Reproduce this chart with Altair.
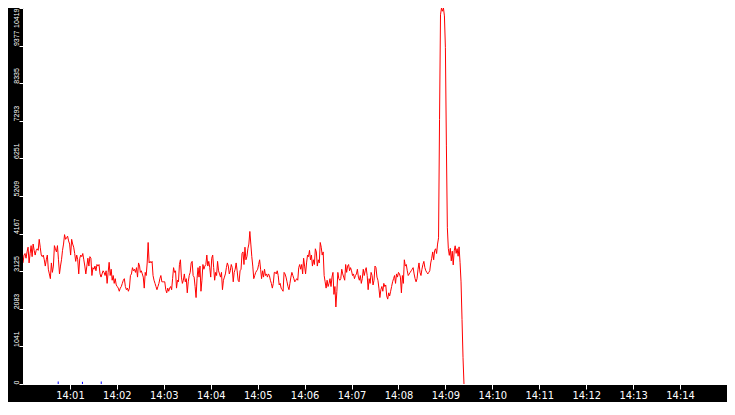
import altair as alt
import pandas as pd

DAY = "2024-01-01 "

# red series in five consecutive stretches
seg_a = [3355, 3573, 3616, 3485, 3660, 3791, 3355, 3616, 3834, 3529,
         3878, 3703, 3573, 3703, 3747, 3703, 4009, 3791, 3573, 3529,
         3573, 3442, 3268, 3442, 3573, 3180, 3050, 2919, 3355, 3093,
         3268, 3834, 3747, 3660, 3834, 3442, 3050, 3268, 3442, 3703,
         3878, 4139, 4009, 4052, 4096, 3965, 3878, 3573, 4009, 3878,
         3791, 3616, 3398, 3573, 3442, 3050, 3485, 3573, 3529, 3616,
         3442, 3268, 3050, 3268, 3485, 3268, 3529, 3485, 3006, 3224,
         3180, 3268, 3137, 3311, 3268, 3311, 3050, 2962, 3050, 3137,
         3093, 3006, 3137, 2788, 3093, 3372, 3006, 3180, 2875, 3006,
         2788, 2919, 2744, 2701, 2657, 2570, 2657, 2701, 2788, 2875,
         2919, 2701, 2613, 2657, 2570, 2657, 3006, 3050, 3224, 3137,
         3180, 3093, 3224, 2962, 3355, 3268]
seg_b = [3093, 3137, 3050, 2962, 2657, 3093, 3006, 3355, 3921, 3355,
         3398, 3355, 3398, 3006, 2875, 2788, 2701, 2613, 2701, 2788,
         2919, 3006, 2832, 2832, 2832, 2832, 2613, 2526, 2657, 2570,
         2657, 2701, 2613, 2919, 3224, 3093, 3137, 2657, 2875, 2832,
         3311, 3442, 2962, 2788, 2875, 3050, 2832, 2919, 2526, 2832,
         3006, 3093, 3355, 3398, 3006, 2962, 2701, 2395, 2919, 3224,
         2962, 3268, 2570, 2875, 3311, 3180, 3268, 3311, 3573, 3268,
         3398, 3224, 2962, 3485, 3573, 3224, 2875, 3093, 3006, 3398,
         3137, 3050, 2962, 3093, 2613, 2875, 2962, 3050, 3224, 3355,
         3268, 3050, 3137, 3311, 3224, 2832, 3093, 3180, 3355, 3137,
         2875, 2832, 3137, 3180, 3616, 3660, 3311, 3791, 3442, 3529,
         3747, 3878, 4227, 3878, 3529]
seg_c = [3268, 2919, 3006, 3093, 3137, 3180, 3311, 3442, 3180, 2919,
         3137, 2962, 3180, 3006, 3050, 2962, 3050, 3006, 2875, 2788,
         2657, 2788, 3093, 3093, 3050, 3137, 3006, 2744, 2788, 2657,
         2613, 2570, 3093, 3050, 2962, 2832, 2701, 2613, 2788, 2962,
         3093, 3006, 2919, 2832, 2875, 2919, 2875, 3224, 3311, 3180,
         3311, 3050, 3485, 3268, 3050, 3355, 3573, 3529, 3703, 3442,
         3573, 3268, 3442, 3311, 3747, 3660, 3268, 3442, 3355, 3921,
         3791, 3573, 3660, 3006, 2832, 2657, 2875, 2701, 2788, 2919,
         2701, 2962, 3093, 2483, 2701, 2134, 2570, 3093, 2919, 2875,
         2919, 3180, 3050, 2962, 2875, 3311, 3093, 3268, 3311, 3137,
         3224, 3137, 3006, 3050, 2919, 3006, 3050, 3180, 2962, 2875,
         3006, 2788, 2919, 3180, 3006]
seg_d = [3137, 3224, 3006, 2613, 2919, 2788, 3093, 3006, 2744, 2875,
         3268, 3224, 2962, 2875, 2657, 2395, 2613, 2701, 2570, 2788,
         2701, 2744, 2439, 2352, 2526, 2439, 2570, 2701, 2832, 2919,
         3006, 2788, 3050, 2962, 3093, 3050, 2962, 2526, 3006, 2788,
         3442, 3268, 3311, 3137, 3006, 3050, 3093, 3137, 3180, 3224,
         3050, 2919, 2832, 2919, 3180, 3355, 3093, 3006, 3180, 3311,
         3398, 3224, 3137, 3093, 3050, 3093, 3137, 3355, 3485, 3660,
         3442, 3703, 3747, 3616, 3878, 4052]
seg_e = [7330, 10230, 10419, 10330, 10419, 10200, 9320, 6620, 4330, 3750,
         3565, 3760, 3410, 3680, 3300, 3690, 3830, 3620, 3750, 3540,
         3800, 3360, 2830, 1790, 740, 0]

seg_starts = ["14:00:00", "14:02:30", "14:04:53.75", "14:07:17.5", "14:08:52.5"]
seg_ends = ["14:02:29", "14:04:52.5", "14:07:16.25", "14:08:51.25", "14:09:23.75"]
segments = [seg_a, seg_b, seg_c, seg_d, seg_e]

# small blue series near zero
blue_times = ["14:00:45", "14:01:16", "14:01:40"]
blue_values = [70, 60, 70]

x_tick_labels = ["14:01", "14:02", "14:03", "14:04", "14:05", "14:06", "14:07",
                 "14:08", "14:09", "14:10", "14:11", "14:12", "14:13", "14:14"]
y_ticks = [0, 1041, 2083, 3125, 4167, 5209, 6251, 7293, 8335, 9377, 10419]
x_domain = ["14:00", "14:15"]
y_max = 10419

rows = []
for start, end, vals in zip(seg_starts, seg_ends, segments):
    ts = pd.date_range(DAY + start, DAY + end, periods=len(vals))
    rows.extend(zip(ts, vals))
red_df = pd.DataFrame(rows, columns=["time", "value"])
blue_df = pd.DataFrame({"time": pd.to_datetime([DAY + t for t in blue_times]),
                        "value": blue_values})


def dt(hm):
    h, m = hm.split(":")
    return alt.DateTime(year=2024, month=1, date=1, hours=int(h), minutes=int(m))


x_enc = alt.X(
    "time:T",
    scale=alt.Scale(domain=[dt(v) for v in x_domain]),
    axis=alt.Axis(
        values=[dt(v) for v in x_tick_labels], format="%H:%M", title=None,
        labelColor="white", tickColor="white", tickSize=5, labelPadding=0,
        labelFontSize=11, labelFont="'DejaVu Sans Condensed', 'DejaVu Sans', sans-serif",
        labelFlush=False, domain=False, grid=False,
    ),
)
y_enc = alt.Y(
    "value:Q",
    scale=alt.Scale(domain=[0, y_max], nice=False),
    axis=alt.Axis(
        values=y_ticks, format="d", title=None,
        labelColor="white", tickColor="white", tickSize=4, labelPadding=1,
        labelAngle=270, labelBaseline="alphabetic",
        labelAlign={"condition": {"test": "datum.value >= 10419", "value": "right"},
                    "value": "left"},
        labelFontSize=7,
        labelFont="'Liberation Sans', sans-serif",
        labelFlush=False, labelOverlap=False,
        labelSeparation=-30, labelBound=False,
        domain=False, grid=False,
    ),
)

red = alt.Chart(red_df).mark_line(color="#ff0000", strokeWidth=1, clip=True).encode(
    x=x_enc, y=y_enc
)
blue = alt.Chart(blue_df).mark_rule(color="#0000ff", strokeWidth=1).encode(
    x=x_enc, y=y_enc, y2=alt.datum(0)
)

chart = (
    alt.layer(red, blue)
    .properties(
        width=704, height=376,
        autosize=alt.AutoSizeParams(type="none"),
        padding={"left": 15, "top": 0, "right": 0, "bottom": 18},
    )
    .configure(background="black")
    .configure_view(fill="white", stroke="white", strokeWidth=1)
)

chart.save("out.html", embed_options={"renderer": "svg", "actions": False})
